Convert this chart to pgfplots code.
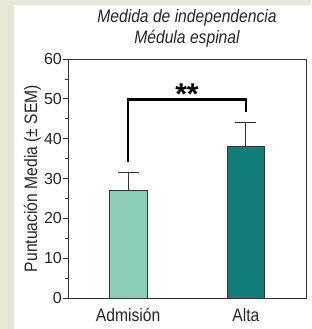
\documentclass[border=0pt]{standalone}
\usepackage{pgfplots}
\pgfplotsset{compat=1.18}
\usepackage{fontspec}
\setmainfont{Liberation Sans}
\newfontfamily\condfont[FakeStretch=0.87]{Liberation Sans}
\definecolor{bgbeige}{RGB}{232,230,212}
\definecolor{mint}{RGB}{138,206,184}
\definecolor{tealbar}{RGB}{18,126,122}
\definecolor{edge}{RGB}{51,51,51}
\begin{document}
\begin{tikzpicture}
\fill[bgbeige] (-68pt,-31pt) rectangle (243pt,298pt);
\fill[white] (-54pt,-31pt) rectangle (243pt,293pt);
\useasboundingbox (-68pt,-31pt) rectangle (243pt,298pt);
\begin{axis}[
  at={(0pt,0pt)}, anchor=south west,
  scale only axis, width=238pt, height=239pt,
  xmin=-0.51, xmax=1.51, ymin=0, ymax=60,
  xtick={0,1}, xticklabels={Admisión, Alta},
  x tick style={draw=none},
  ytick={0,10,...,60}, minor ytick={5,15,...,55},
  ytick pos=left, tick align=outside,
  major tick length=5pt, minor tick length=3pt,
  y tick style={edge, line width=0.8pt},
  axis line style={edge, line width=0.8pt},
  /pgf/number format/assume math mode=true,
  yticklabel style={inner sep=1pt, font=\fontsize{16}{18}\selectfont, text=black!85},
  xticklabel style={anchor=base, yshift=-18.5pt, inner sep=0pt, font=\condfont\fontsize{18}{20}\selectfont, text=black!85},
  ylabel={Puntuación Media (± SEM)},
  ylabel style={at={(axis description cs:-0.15,0.5)}, anchor=center, font=\condfont\fontsize{18}{20}\selectfont, text=black!85},
  title={Medida de independencia\\Médula espinal},
  title style={at={(axis description cs:0.5,1)}, anchor=south, yshift=2pt, align=center, font=\condfont\fontsize{18}{21}\selectfont\itshape, text=black!85},
]
\addplot[ybar, bar shift=0pt, bar width=38pt, fill=mint, draw=edge, line width=0.9pt,
  error bars/.cd, y dir=plus, y explicit,
  error bar style={edge, line width=1pt},
  error mark options={rotate=90, mark size=10.5pt, edge, line width=1pt}]
  coordinates {(0,26.9) +- (0,4.6)};
\addplot[ybar, bar shift=0pt, bar width=37pt, fill=tealbar, draw=edge, line width=0.9pt,
  error bars/.cd, y dir=plus, y explicit,
  error bar style={edge, line width=1pt},
  error mark options={rotate=90, mark size=10.5pt, edge, line width=1pt}]
  coordinates {(1,38.0) +- (0,6.0)};
\addplot[black, line width=2.6pt, mark=none] coordinates {(0,34.2) (0,49.9) (1,49.9) (1,46.8)};
\node[anchor=base, font=\bfseries\fontsize{30}{30}\selectfont, inner sep=0pt] at (axis cs:0.5,48.6) {**};
\end{axis}
\end{tikzpicture}
\end{document}
